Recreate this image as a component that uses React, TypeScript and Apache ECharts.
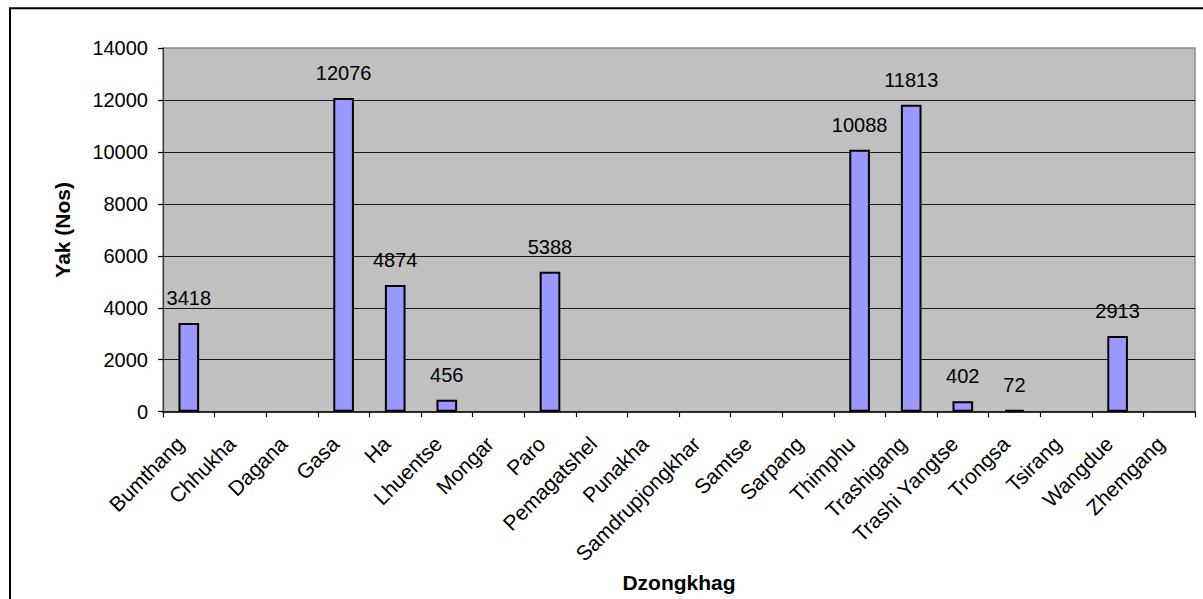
import React, { useEffect, useRef } from "react";
import * as echarts from "echarts";

const categories = [
  "Bumthang", "Chhukha", "Dagana", "Gasa", "Ha", "Lhuentse", "Mongar", "Paro",
  "Pemagatshel", "Punakha", "Samdrupjongkhar", "Samtse", "Sarpang", "Thimphu",
  "Trashigang", "Trashi Yangtse", "Trongsa", "Tsirang", "Wangdue", "Zhemgang",
];
const yakValues: (number | null)[] = [
  3418, null, null, 12076, 4874, 456, null, 5388,
  null, null, null, null, null, 10088,
  11813, 402, 72, null, 2913, null,
];
const yTicks = { min: 0, max: 14000, interval: 2000 };
const xTitle = "Dzongkhag";
const yTitle = "Yak (Nos)";

const FONT = "'Liberation Sans', Arial, sans-serif";

export default function App() {
  const ref = useRef<HTMLDivElement>(null);
  useEffect(() => {
    if (!ref.current) return;
    const chart = echarts.init(ref.current, null, { renderer: "svg" });
    chart.setOption({
      animation: false,
      backgroundColor: "#ffffff",
      textStyle: { fontFamily: FONT },
      graphic: [
        {
          type: "rect",
          shape: { x: 10, y: 8.3, width: 1400, height: 1000 },
          style: { fill: "none", stroke: "#000", lineWidth: 2 },
          silent: true,
          z: 100,
        },
      ],
      grid: {
        left: 163,
        top: 48,
        right: 8,
        bottom: 187.3,
        show: true,
        backgroundColor: "#C0C0C0",
        borderColor: "#8a8a8a",
        borderWidth: 1.5,
      },
      xAxis: {
        type: "category",
        data: categories,
        name: xTitle,
        nameLocation: "middle",
        nameGap: 154,
        nameTextStyle: { fontFamily: FONT, fontSize: 21, fontWeight: "bold", color: "#000" },
        axisLine: { show: true, lineStyle: { color: "#000", width: 1.5 } },
        axisTick: { show: true, alignWithLabel: false, length: 5.5, lineStyle: { color: "#000", width: 1.2 } },
        axisLabel: {
          rotate: 45,
          interval: 0,
          margin: 20,
          padding: [0, 12, 0, 0],
          fontFamily: FONT,
          fontSize: 21,
          color: "#000",
        },
        splitLine: { show: false },
      },
      yAxis: {
        type: "value",
        min: yTicks.min,
        max: yTicks.max,
        interval: yTicks.interval,
        name: yTitle,
        nameLocation: "middle",
        nameRotate: 90,
        nameGap: 90,
        nameTextStyle: { fontFamily: FONT, fontSize: 21, fontWeight: "bold", color: "#000" },
        axisLine: { show: true, lineStyle: { color: "#404040", width: 1.2 } },
        axisTick: { show: true, length: 5, lineStyle: { color: "#000", width: 1.2 } },
        axisLabel: {
          margin: 15,
          fontFamily: FONT,
          fontSize: 20,
          color: "#000",
          formatter: (v: number) => String(v),
        },
        splitLine: { show: true, showMaxLine: false, showMinLine: false, lineStyle: { color: "#1a1a1a", width: 1.2 } },
      },
      series: [
        {
          type: "bar",
          data: yakValues,
          barCategoryGap: "60%",
          itemStyle: { color: "#9999FF", borderColor: "#000", borderWidth: 2 },
          label: {
            show: true,
            position: "top",
            distance: 15,
            fontFamily: FONT,
            fontSize: 20,
            color: "#000",
          },
        },
      ],
    });
    return () => chart.dispose();
  }, []);
  return (
    <div
      ref={ref}
      style={{ position: "fixed", left: 0, top: 0, width: 1203, height: 599 }}
    />
  );
}
